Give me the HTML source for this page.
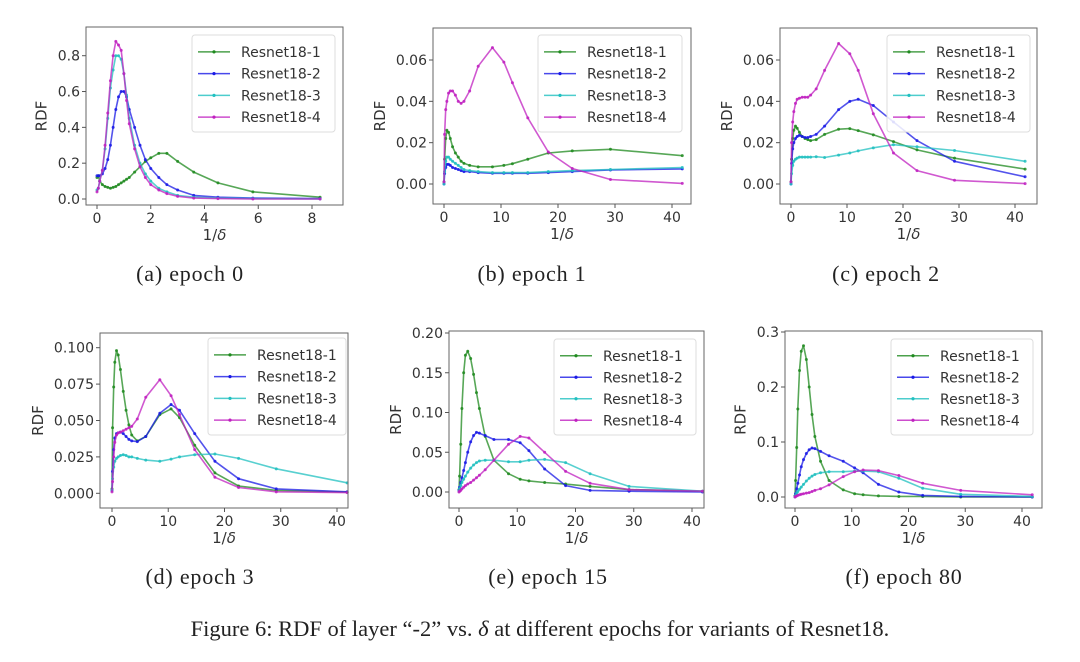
<!DOCTYPE html>
<html><head><meta charset="utf-8">
<style>
html,body{margin:0;padding:0;background:#fff;}
svg{display:block;}
text{font-family:"DejaVu Sans","Liberation Sans",sans-serif;}
text.cap, .cap text{font-family:"Liberation Serif","DejaVu Serif",serif;fill:#222;}
</style></head>
<body>
<svg id="fig" width="1080" height="662" viewBox="0 0 1080 662" xmlns="http://www.w3.org/2000/svg">
<rect width="1080" height="662" fill="#fff"/>
<g class="cap" font-size="22" letter-spacing="0.8">
<text class="cap" x="190" y="281" text-anchor="middle">(a) epoch 0</text>
<text class="cap" x="532" y="281" text-anchor="middle">(b) epoch 1</text>
<text class="cap" x="886" y="281" text-anchor="middle">(c) epoch 2</text>
<text class="cap" x="200" y="584" text-anchor="middle">(d) epoch 3</text>
<text class="cap" x="548" y="584" text-anchor="middle">(e) epoch 15</text>
<text class="cap" x="904" y="584" text-anchor="middle">(f) epoch 80</text>
</g>
<text class="cap" x="540" y="636" text-anchor="middle" font-size="22.5">Figure 6: RDF of layer “-2” vs. <tspan font-style="italic">δ</tspan> at different epochs for variants of Resnet18.</text>
</svg>
<script>
// ---- data ----
const seriesNames = ["Resnet18-1","Resnet18-2","Resnet18-3","Resnet18-4"];
const xA = [0,0.05,0.1,0.2,0.3,0.4,0.5,0.6,0.7,0.8,0.9,1.0,1.1,1.2,1.4,1.6,1.8,2.0,2.3,2.6,3.0,3.6,4.5,5.8,8.3];
const aR1 = [0.12,0.13,0.10,0.08,0.07,0.065,0.06,0.065,0.07,0.08,0.09,0.10,0.11,0.12,0.15,0.18,0.21,0.23,0.255,0.255,0.21,0.15,0.09,0.04,0.01];
const aR2 = [0.13,0.13,0.13,0.14,0.17,0.22,0.30,0.40,0.50,0.57,0.60,0.60,0.57,0.50,0.40,0.30,0.22,0.17,0.12,0.08,0.05,0.02,0.01,0.005,0.002];
const aR3 = [0.05,0.06,0.10,0.16,0.28,0.45,0.62,0.72,0.80,0.80,0.78,0.70,0.58,0.45,0.30,0.20,0.14,0.10,0.06,0.04,0.02,0.01,0.005,0.002,0];
const aR4 = [0.04,0.06,0.10,0.16,0.30,0.48,0.66,0.80,0.88,0.86,0.83,0.70,0.55,0.42,0.28,0.18,0.12,0.08,0.05,0.03,0.015,0.005,0.002,0,0];
const xB = [0,0.1,0.3,0.5,0.8,1.1,1.5,2,2.5,3,3.5,4.5,6,8.5,10.5,12,14.7,18.3,22.5,29.2,41.8];
const bR1 = [0.001,0.012,0.022,0.026,0.025,0.022,0.018,0.015,0.013,0.011,0.010,0.009,0.0083,0.0083,0.009,0.0098,0.012,0.015,0.016,0.0168,0.0137];
const bR2 = [0.000,0.005,0.008,0.0095,0.0095,0.009,0.008,0.0075,0.007,0.0065,0.006,0.006,0.0055,0.0052,0.0052,0.0052,0.0052,0.0055,0.006,0.0068,0.0073];
const bR3 = [0.000,0.006,0.011,0.013,0.013,0.012,0.011,0.010,0.009,0.008,0.007,0.0065,0.006,0.0055,0.0055,0.0055,0.0055,0.006,0.0065,0.007,0.008];
const bR4 = [0.001,0.024,0.036,0.040,0.044,0.045,0.045,0.043,0.040,0.039,0.040,0.045,0.057,0.066,0.059,0.049,0.032,0.0155,0.0075,0.0022,0.0003];
const cR1 = [0.001,0.012,0.022,0.026,0.028,0.027,0.025,0.023,0.022,0.0215,0.021,0.0215,0.024,0.0265,0.0268,0.0258,0.0238,0.0205,0.0165,0.0125,0.0072];
const cR2 = [0.000,0.010,0.017,0.020,0.022,0.023,0.0235,0.023,0.0225,0.0225,0.023,0.024,0.028,0.036,0.040,0.041,0.038,0.030,0.021,0.011,0.0035];
const cR3 = [0.000,0.005,0.009,0.011,0.012,0.0125,0.013,0.013,0.013,0.013,0.013,0.0132,0.0128,0.014,0.015,0.016,0.0175,0.019,0.018,0.0162,0.011];
const cR4 = [0.001,0.020,0.030,0.035,0.039,0.041,0.0415,0.042,0.042,0.042,0.043,0.046,0.055,0.068,0.063,0.055,0.034,0.015,0.0065,0.0018,0.0002];
const dR1 = [0.003,0.045,0.073,0.09,0.098,0.095,0.085,0.07,0.057,0.047,0.040,0.036,0.039,0.054,0.058,0.052,0.033,0.014,0.005,0.002,0.0008];
const dR2 = [0.002,0.015,0.030,0.038,0.041,0.0415,0.042,0.041,0.039,0.037,0.036,0.0355,0.039,0.055,0.061,0.057,0.041,0.022,0.010,0.003,0.001];
const dR3 = [0.002,0.010,0.018,0.022,0.024,0.025,0.026,0.0265,0.026,0.025,0.025,0.024,0.0228,0.022,0.0235,0.025,0.0265,0.027,0.024,0.0168,0.0072];
const dR4 = [0.001,0.008,0.025,0.035,0.040,0.0415,0.042,0.043,0.044,0.045,0.046,0.051,0.066,0.078,0.067,0.054,0.030,0.011,0.004,0.001,0.0005];
const eR1 = [0.003,0.02,0.06,0.105,0.15,0.172,0.177,0.168,0.148,0.125,0.105,0.070,0.040,0.023,0.016,0.014,0.012,0.010,0.007,0.003,0.001];
const eR2 = [0.002,0.006,0.012,0.018,0.027,0.037,0.050,0.063,0.071,0.075,0.074,0.071,0.066,0.066,0.062,0.052,0.029,0.008,0.002,0.001,0.000];
const eR3 = [0.001,0.004,0.008,0.012,0.016,0.020,0.025,0.030,0.034,0.037,0.039,0.040,0.040,0.038,0.038,0.040,0.041,0.037,0.023,0.007,0.001];
const eR4 = [0.000,0.001,0.002,0.004,0.006,0.008,0.010,0.012,0.015,0.018,0.021,0.028,0.040,0.060,0.070,0.068,0.050,0.026,0.011,0.003,0.001];
const fR1 = [0.002,0.03,0.09,0.16,0.23,0.265,0.275,0.25,0.20,0.15,0.11,0.065,0.030,0.013,0.006,0.004,0.002,0.001,0.001,0.000,0.000];
const fR2 = [0.001,0.006,0.015,0.025,0.040,0.055,0.068,0.079,0.086,0.089,0.088,0.083,0.075,0.065,0.053,0.044,0.023,0.009,0.003,0.001,0.000];
const fR3 = [0.000,0.003,0.007,0.010,0.014,0.018,0.023,0.029,0.034,0.038,0.041,0.044,0.046,0.046,0.047,0.047,0.046,0.034,0.016,0.005,0.001];
const fR4 = [0.000,0.001,0.002,0.003,0.004,0.005,0.006,0.007,0.008,0.010,0.012,0.015,0.022,0.037,0.046,0.049,0.048,0.039,0.025,0.012,0.004];
const xTicksA = [0,2,4,6,8];
const xTicksB = [0,10,20,30,40];
const yTicksA = ["0.0","0.2","0.4","0.6","0.8"];
const yTicksB = ["0.00","0.02","0.04","0.06"];
const yTicksD = ["0.000","0.025","0.050","0.075","0.100"];
const yTicksE = ["0.00","0.05","0.10","0.15","0.20"];
const yTicksF = ["0.0","0.1","0.2","0.3"];

// ---- layout ----
const colors = ["#1f8a1f","#1a1ae6","#20c0c0","#c020c0"];
const panels = [
 {id:"a",L:86,R:343,T:27,B:205,px0:97,v0:0,px1:312,v1:8,py0:199,w0:0,py1:55.7,w1:0.8,x:xA,ys:[aR1,aR2,aR3,aR4],xt:xTicksA,yt:yTicksA,leg:[192,35,335,132]},
 {id:"b",L:433,R:691,T:28,B:204,px0:444,v0:0,px1:672,v1:40,py0:184,w0:0,py1:60,w1:0.06,x:xB,ys:[bR1,bR2,bR3,bR4],xt:xTicksB,yt:yTicksB,leg:[538,35,682,132]},
 {id:"c",L:780,R:1037,T:28,B:204,px0:791,v0:0,px1:1015,v1:40,py0:184,w0:0,py1:60,w1:0.06,x:xB,ys:[cR1,cR2,cR3,cR4],xt:xTicksB,yt:yTicksB,leg:[887,35,1030,132]},
 {id:"d",L:100,R:348,T:333,B:508,px0:112,v0:0,px1:337,v1:40,py0:493.3,w0:0,py1:347.7,w1:0.1,x:xB,ys:[dR1,dR2,dR3,dR4],xt:xTicksB,yt:yTicksD,leg:[208,338,346,435]},
 {id:"e",L:449,R:704,T:331,B:508,px0:459,v0:0,px1:692,v1:40,py0:492,w0:0,py1:333,w1:0.2,x:xB,ys:[eR1,eR2,eR3,eR4],xt:xTicksB,yt:yTicksE,leg:[554,339,696,435]},
 {id:"f",L:785,R:1042,T:331,B:508,px0:795,v0:0,px1:1022,v1:40,py0:497,w0:0,py1:332,w1:0.3,x:xB,ys:[fR1,fR2,fR3,fR4],xt:xTicksB,yt:yTicksF,leg:[891,339,1033,435]}
];
const NS="http://www.w3.org/2000/svg";
const svg=document.getElementById("fig");
function mk(tag,attrs,parent){const e=document.createElementNS(NS,tag);for(const k in attrs)e.setAttribute(k,attrs[k]);parent.appendChild(e);return e;}

panels.forEach(p=>{
  const sx=v=>p.px0+(v-p.v0)*(p.px1-p.px0)/(p.v1-p.v0);
  const sy=v=>p.py0+(v-p.w0)*(p.py1-p.py0)/(p.w1-p.w0);
  const g=mk("g",{},svg);
  
  
  p.ys.forEach((ys,si)=>{
    const pts=ys.map((v,i)=>sx(p.x[i]).toFixed(1)+","+sy(v).toFixed(1)).join(" ");
    const pl=mk("polyline",{points:pts,fill:"none",stroke:colors[si],"stroke-width":1.6,"stroke-opacity":0.75,"stroke-linejoin":"round"},g);
    
    
    ys.forEach((v,i)=>{
      const c=mk("circle",{cx:sx(p.x[i]),cy:sy(v),r:1.5,fill:colors[si],"fill-opacity":0.85},g);
      
      
    });
  });
  const fr=mk("rect",{x:p.L,y:p.T,width:p.R-p.L,height:p.B-p.T,fill:"none",stroke:"#666","stroke-width":1},g);
  
  
  p.xt.forEach(t=>{
    const X=sx(t);
    mk("line",{x1:X,y1:p.B,x2:X,y2:p.B+4,stroke:"#555","stroke-width":1},g);
    const tx=mk("text",{x:X,y:p.B+18,"text-anchor":"middle","font-size":14,fill:"#333"},g);
    tx.textContent=t;
    
    
  });
  p.yt.forEach(t=>{
    const Y=sy(parseFloat(t));
    mk("line",{x1:p.L-4,y1:Y,x2:p.L,y2:Y,stroke:"#555","stroke-width":1},g);
    const ty=mk("text",{x:p.L-6,y:Y+5,"text-anchor":"end","font-size":14,fill:"#333"},g);
    ty.textContent=t;
    
    
  });
  const xtl=mk("text",{x:(p.L+p.R)/2,y:p.B+35,"text-anchor":"middle","font-size":15,fill:"#333"},g);
  xtl.innerHTML='1/<tspan font-style="italic">δ</tspan>';
  
  
  const maxw=Math.max(...p.yt.map(s=>s.length));
  const ytx=p.L-13-maxw*8.8;
  const ytl=mk("text",{x:ytx,y:(p.T+p.B)/2,"text-anchor":"middle","font-size":15,fill:"#333",transform:`rotate(-90 ${ytx} ${(p.T+p.B)/2})`},g);
  ytl.textContent="RDF";
  
  
  const [lx0,ly0,lx1,ly1]=p.leg;
  const lg=mk("g",{},g);
  
  
  mk("rect",{x:lx0,y:ly0,width:lx1-lx0,height:ly1-ly0,rx:3,fill:"#fff","fill-opacity":0.85,stroke:"#ddd","stroke-width":1},lg);
  const step=(ly1-ly0-10)/4;
  seriesNames.forEach((n,si)=>{
    const Y=ly0+5+step*(si+0.5)+1;
    const e=mk("g",{},lg);
    
    
    mk("line",{x1:lx0+6,y1:Y,x2:lx0+38,y2:Y,stroke:colors[si],"stroke-width":1.6,"stroke-opacity":0.8},e);
    mk("circle",{cx:lx0+22,cy:Y,r:1.6,fill:colors[si]},e);
    const t=mk("text",{x:lx0+49,y:Y+5,"font-size":14,fill:"#333"},e);
    t.textContent=n;
  });
});
</script>
</body></html>
